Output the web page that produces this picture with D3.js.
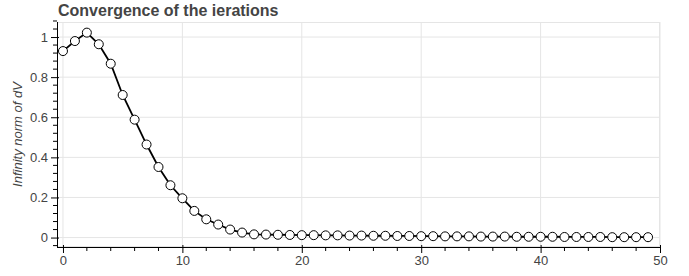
<!DOCTYPE html>
<html>
<head>
<meta charset="utf-8">
<script src="https://cdn.jsdelivr.net/npm/d3@7"></script>
<style>
  body { margin: 0; background: #fff; }
  svg { font-family: "Liberation Sans", Helvetica, Arial, sans-serif; }
</style>
</head>
<body>
<div id="container"></div>
<script>
// iteration number and infinity norm of dV
let iterations = d3.range(0, 50);
let normValues = [
  0.930, 0.980, 1.022, 0.964, 0.867, 0.711, 0.588, 0.464, 0.352, 0.261,
  0.196, 0.133, 0.091, 0.065, 0.040, 0.025, 0.016, 0.015, 0.014, 0.013,
  0.012, 0.012, 0.011, 0.011, 0.010, 0.010, 0.009, 0.009, 0.008, 0.008,
  0.007, 0.007, 0.006, 0.006, 0.006, 0.005, 0.005, 0.005, 0.004, 0.004,
  0.004, 0.004, 0.003, 0.003, 0.003, 0.003, 0.002, 0.002, 0.002, 0.002
];
let xTicks = [0, 10, 20, 30, 40, 50];
let yTicks = [0, 0.2, 0.4, 0.6, 0.8, 1];
let titleText = "Convergence of the ierations";
let yLabelText = "Infinity norm of dV";

let w = 689;
let h = 276;
let plotLeft = 57, plotRight = 660, plotTop = 22, plotBottom = 247;

let data = iterations.map(function(d, i){
  return { x: d, y: normValues[i] };
});

let viz = d3.select("#container")
  .append("svg")
    .attr("width", w)
    .attr("height", h)
;

let xScale = d3.scaleLinear().domain([-0.5, 50]).range([plotLeft, plotRight]);
let yScale = d3.scaleLinear().domain([-0.047, 1.075]).range([plotBottom, plotTop]);

// grid
let grid = viz.append("g").attr("class", "grid");
grid.selectAll(".vgrid").data(xTicks).enter()
  .append("line")
    .attr("x1", d => xScale(d)).attr("x2", d => xScale(d))
    .attr("y1", plotTop).attr("y2", plotBottom)
    .attr("stroke", "#e5e5e5")
;
grid.selectAll(".hgrid").data(yTicks).enter()
  .append("line")
    .attr("x1", plotLeft).attr("x2", plotRight)
    .attr("y1", d => yScale(d)).attr("y2", d => yScale(d))
    .attr("stroke", "#e5e5e5")
;
viz.append("rect")
  .attr("x", plotLeft + 0.5).attr("y", plotTop + 0.5)
  .attr("width", plotRight - plotLeft - 1).attr("height", plotBottom - plotTop - 1)
  .attr("fill", "none")
  .attr("stroke", "#e5e5e5")
;

// axes
let xAxis = d3.axisBottom(xScale).tickValues(xTicks).tickSize(6).tickPadding(3).tickSizeOuter(0);
let xAxisGroup = viz.append("g")
    .attr("class", "xaxisgroup")
    .attr("transform", "translate(0," + plotBottom + ")")
;
xAxisGroup.call(xAxis);
xAxisGroup.select(".domain").attr("d", "M" + plotLeft + ",0.5H" + plotRight);
xAxisGroup.selectAll(".tick line").attr("y1", -2);
// minor ticks
xAxisGroup.selectAll(".minor").data(d3.range(0, 51, 2).filter(d => d % 10 != 0)).enter()
  .append("line")
    .attr("x1", d => xScale(d)).attr("x2", d => xScale(d))
    .attr("y1", 0).attr("y2", 4)
    .attr("stroke", "#000")
;

let yAxis = d3.axisLeft(yScale).tickValues(yTicks).tickSize(6).tickPadding(3).tickSizeOuter(0)
  .tickFormat(d => d === 0 || d === 1 ? d3.format("d")(d) : d3.format(".1f")(d));
let yAxisGroup = viz.append("g")
    .attr("class", "yaxisgroup")
    .attr("transform", "translate(" + plotLeft + ",0)")
;
yAxisGroup.call(yAxis);
yAxisGroup.select(".domain").attr("d", "M0.5," + plotTop + "V" + (plotBottom + 0.5));
yAxisGroup.selectAll(".tick line").attr("x1", 2);
yAxisGroup.selectAll(".minor").data(d3.range(-0.04, 1.08, 0.04).filter(d => Math.abs(d * 5 - Math.round(d * 5)) > 0.01)).enter()
  .append("line")
    .attr("x1", 0).attr("x2", -4)
    .attr("y1", d => yScale(d)).attr("y2", d => yScale(d))
    .attr("stroke", "#000")
;

viz.selectAll(".tick text")
  .attr("font-size", 13)
  .attr("fill", "#444")
  .attr("font-family", "Liberation Sans, Helvetica, Arial, sans-serif")
;

// labels
viz.append("text")
  .attr("x", 58).attr("y", 16)
  .attr("font-size", 16)
  .attr("font-weight", "bold")
  .attr("fill", "#444")
  .text(titleText)
;
viz.append("text")
  .attr("transform", "translate(22," + ((plotTop + plotBottom) / 2) + ") rotate(-90)")
  .attr("text-anchor", "middle")
  .attr("font-size", 13)
  .attr("font-style", "italic")
  .attr("fill", "#444")
  .text(yLabelText)
;

// line and markers
let lineMaker = d3.line()
  .x(d => xScale(d.x))
  .y(d => yScale(d.y))
;
let graphGroup = viz.append("g").attr("class", "graphGroup");
graphGroup.append("path")
  .datum(data)
  .attr("d", lineMaker)
  .attr("fill", "none")
  .attr("stroke", "#000")
  .attr("stroke-width", 1.8)
;
graphGroup.selectAll(".dot").data(data).enter()
  .append("circle")
    .attr("class", "dot")
    .attr("cx", d => xScale(d.x))
    .attr("cy", d => yScale(d.y))
    .attr("r", 4.5)
    .attr("fill", "#fff")
    .attr("stroke", "#000")
    .attr("stroke-width", 1)
;
</script>
</body>
</html>
